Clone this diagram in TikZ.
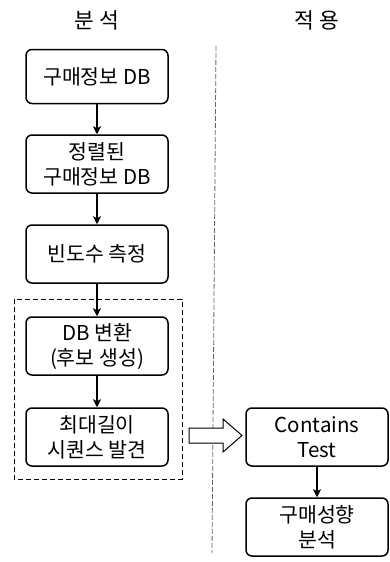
\documentclass[tikz,border=0pt]{standalone}
\usepackage{fontspec}
\setmainfont{Noto Sans CJK KR}
\usepackage{tikz}
\usetikzlibrary{arrows.meta}

\begin{document}
\begin{tikzpicture}[x=1pt,y=-1pt,
	stepbox/.style={draw, line width=1.5pt, rounded corners=6pt, minimum width=142pt, minimum height=54pt, align=center, inner sep=2pt, font=\fontsize{20.5}{25}\selectfont},
	title/.style={font=\fontsize{21.5}{24}\selectfont}]

	\useasboundingbox (0,0) rectangle (390,562);

	\node[title] (tl) at (97,20) {분 석};
	\node[title] (tr) at (317,20) {적 용};

	\draw[black!60, line width=0.8pt, dash pattern=on 5pt off 2pt] (216,46) -- (212,553);

	\node[stepbox] (b1) at (97,76.5) {구매정보 DB};
	\node[stepbox, minimum height=58pt] (b2) at (97,164) {정렬된\\구매정보 DB};
	\node[stepbox, minimum height=58pt] (b3) at (97,254) {빈도수 측정};
	\node[stepbox, minimum height=58pt] (b4) at (97,346) {DB 변환\\(후보 생성)};
	\node[stepbox, minimum height=58pt] (b5) at (97,437) {최대길이\\시퀀스 발견};

	\node[stepbox, minimum height=58pt] (c1) at (317,437) {Contains\\Test};
	\node[stepbox, minimum height=58pt] (c2) at (317,527) {구매성향\\분석};

	\draw[line width=1pt, dash pattern=on 5pt off 3pt] (14,299) rectangle (182,479);

	\foreach \a/\b in {b1/b2, b2/b3, b3/b4, b4/b5, c1/c2}
		\draw[line width=1.5pt, -{Stealth[length=8pt, width=8pt, inset=2pt]}] (\a) -- (\b);

	\draw[line width=1pt, fill=white] (189,428) -- (223,428) -- (223,419) -- (242,435.5) -- (223,452) -- (223,443) -- (189,443) -- cycle;

\end{tikzpicture}
\end{document}
